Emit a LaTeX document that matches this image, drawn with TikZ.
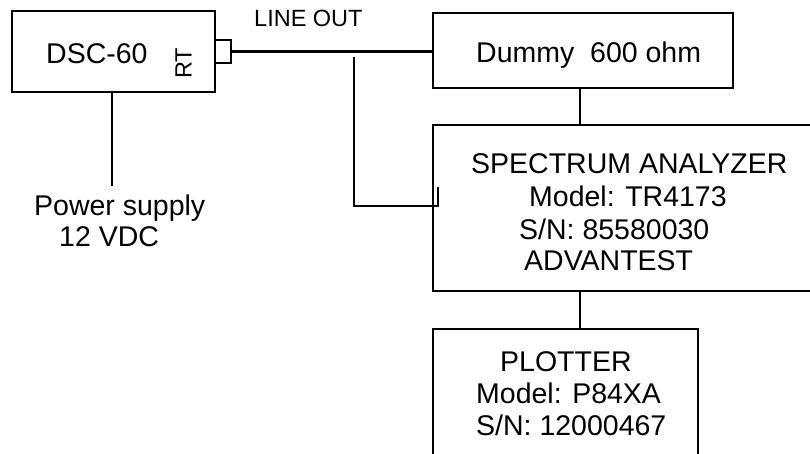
\documentclass[tikz,border=0pt]{standalone}
\usepackage{fontspec}
\setmainfont{Liberation Sans}
\usepackage{tikz}

\begin{document}
\begin{tikzpicture}[x=1pt, y=-1pt, line width=2.4pt,
  box/.style={draw, rectangle, inner sep=0pt},
  txt/.style={anchor=base west, inner sep=0pt, font=\fontsize{28.5}{32}\selectfont}]
\useasboundingbox (0,0) rectangle (810,454);
\clip (0,0) rectangle (810,454);

% Boxes
\node[box, minimum width=203pt, minimum height=81pt] (dsc) at (113.5,51.5) {};
\node[box, minimum width=16pt, minimum height=23pt] (plug) at (223,51.5) {};
\node[box, minimum width=300pt, minimum height=75pt] (dummy) at (583,50.5) {};
\node[box, minimum width=430pt, minimum height=166pt] (sa) at (648,208) {};
\node[box, minimum width=265pt, minimum height=160pt] (plotter) at (565.5,409) {};

% Texts
\node[txt] (dsclbl) at (45,64) {DSC-60};
\node[inner sep=0pt, rotate=90, font=\fontsize{23.5}{26}\selectfont] (rt) at (183.5,63.5) {RT};
\node[txt, font=\fontsize{23.5}{26}\selectfont] (lineout) at (253,27) {LINE OUT};
\node[txt] (dummylbl) at (475,63) {Dummy\ \ 600 ohm};
\node[txt] (sa1) at (470,174) {SPECTRUM ANALYZER};
\node[txt] (sa2) at (528,207) {Model: TR4173};
\node[txt] (sa3) at (518,239) {S/N: 85580030};
\node[txt] (sa4) at (523,270) {ADVANTEST};
\node[txt] (pl1) at (499,371) {PLOTTER};
\node[txt] (pl2) at (475,403) {Model: P84XA};
\node[txt] (pl3) at (475,435) {S/N: 12000467};
\node[txt] (ps1) at (33,215) {Power supply};
\node[txt] (ps2) at (58,247) {12 VDC};

% Wiring
\coordinate (pwr) at (112,186);
\coordinate (tap) at (354,57);
\coordinate (jack) at (438,206);
\coordinate (bus) at (580,0);
\draw (dsc.south -| pwr) -- (pwr);
\draw (plug.east) -- (plug.east -| dummy.west);
\draw (tap) |- (jack) -- (jack |- 0,187);
\draw (dummy.south -| bus) -- (sa.north -| bus);
\draw (sa.south -| bus) -- (plotter.north -| bus);
\end{tikzpicture}
\end{document}
